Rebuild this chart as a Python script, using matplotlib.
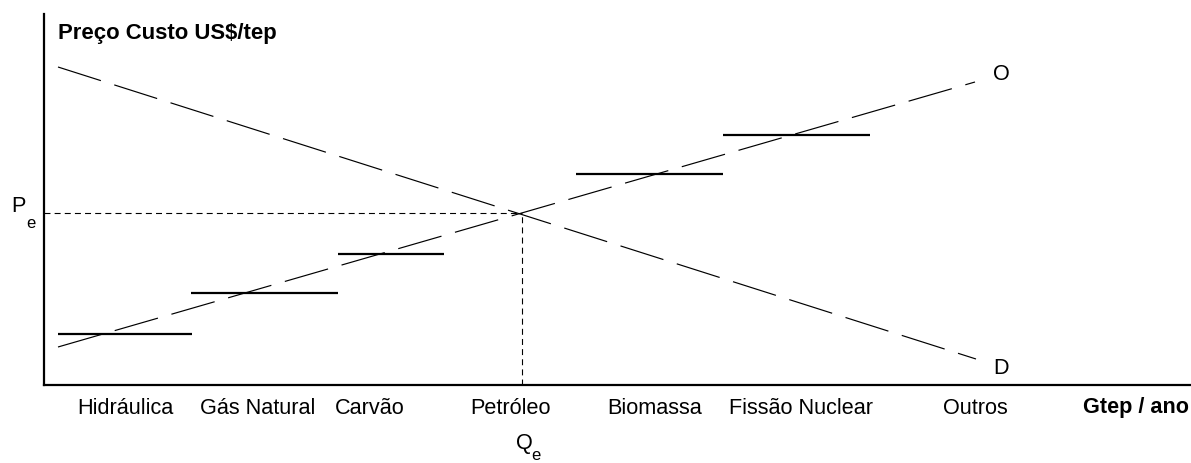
import matplotlib
matplotlib.use("Agg")
import matplotlib.pyplot as plt

plt.rcParams['font.family'] = ['Liberation Sans', 'DejaVu Sans']
plt.rcParams['lines.scale_dashes'] = False

# Schematic data (arbitrary units)
categories = ["Hidráulica", "Gás Natural", "Carvão", "Petróleo",
              "Biomassa", "Fissão Nuclear", "Outros"]
category_pos = [81, 214, 326, 466, 611, 757, 931]
x_axis_label = "Gtep / ano"
y_axis_label = "Preço Custo US$/tep"

step_start = [14, 147, 294, 532, 679]
step_end = [148, 294, 400, 679, 826]
step_level = [51, 92, 131, 211, 250]

supply_x = [14, 931]
supply_y = [38, 303]
demand_x = [14, 932]
demand_y = [318, 26]

Pe = 172
Qe = 478

W, H = 1191, 463
fig = plt.figure(figsize=(W / 100, H / 100), dpi=100)
ax = fig.add_axes([44 / W, 78 / H, (W - 44) / W, 371 / H])
ax.set_xlim(0, W - 44)
ax.set_ylim(0, 371)
for s in ['top', 'right']:
    ax.spines[s].set_visible(False)
for s in ['left', 'bottom']:
    ax.spines[s].set_linewidth(1.6)
ax.set_xticks([])
ax.set_yticks([])

# steps
for x0, x1, y in zip(step_start, step_end, step_level):
    ax.plot([x0, x1], [y, y], color='black', lw=1.6, solid_capstyle='butt')

# supply and demand curves
ax.plot(supply_x, supply_y, color='black', lw=0.85, dashes=(32.4, 10.1))
ax.plot(demand_x, demand_y, color='black', lw=0.85, dashes=(32.4, 10.1))

# equilibrium guides
ax.plot([0, Qe], [Pe, Pe], color='black', lw=0.8, dashes=(4.3, 3.0))
ax.plot([Qe, Qe], [0, Pe], color='black', lw=0.8, dashes=(4.3, 3.0))

fs = 15.6
# category labels
for lab, x in zip(categories, category_pos):
    ax.text(x, -23, lab, ha='center', va='center', fontsize=fs, clip_on=False)
ax.text(1092, -23, x_axis_label, ha='center', va='center', fontsize=fs,
        fontweight='bold', clip_on=False)
ax.text(14, 352, y_axis_label, ha='left', va='center', fontsize=15.9,
        fontweight='bold')

# curve labels
ax.text(957, 310, "O", ha='center', va='center', fontsize=fs)
ax.text(957, 17, "D", ha='center', va='center', fontsize=fs)

# equilibrium labels
ax.text(-26, 179, "P", ha='center', va='center', fontsize=fs, clip_on=False)
ax.text(-13, 162, "e", ha='center', va='center', fontsize=12, clip_on=False)
ax.text(480, -58, "Q", ha='center', va='center', fontsize=fs, clip_on=False)
ax.text(492, -70, "e", ha='center', va='center', fontsize=12, clip_on=False)

fig.savefig("out.png", dpi=100)
